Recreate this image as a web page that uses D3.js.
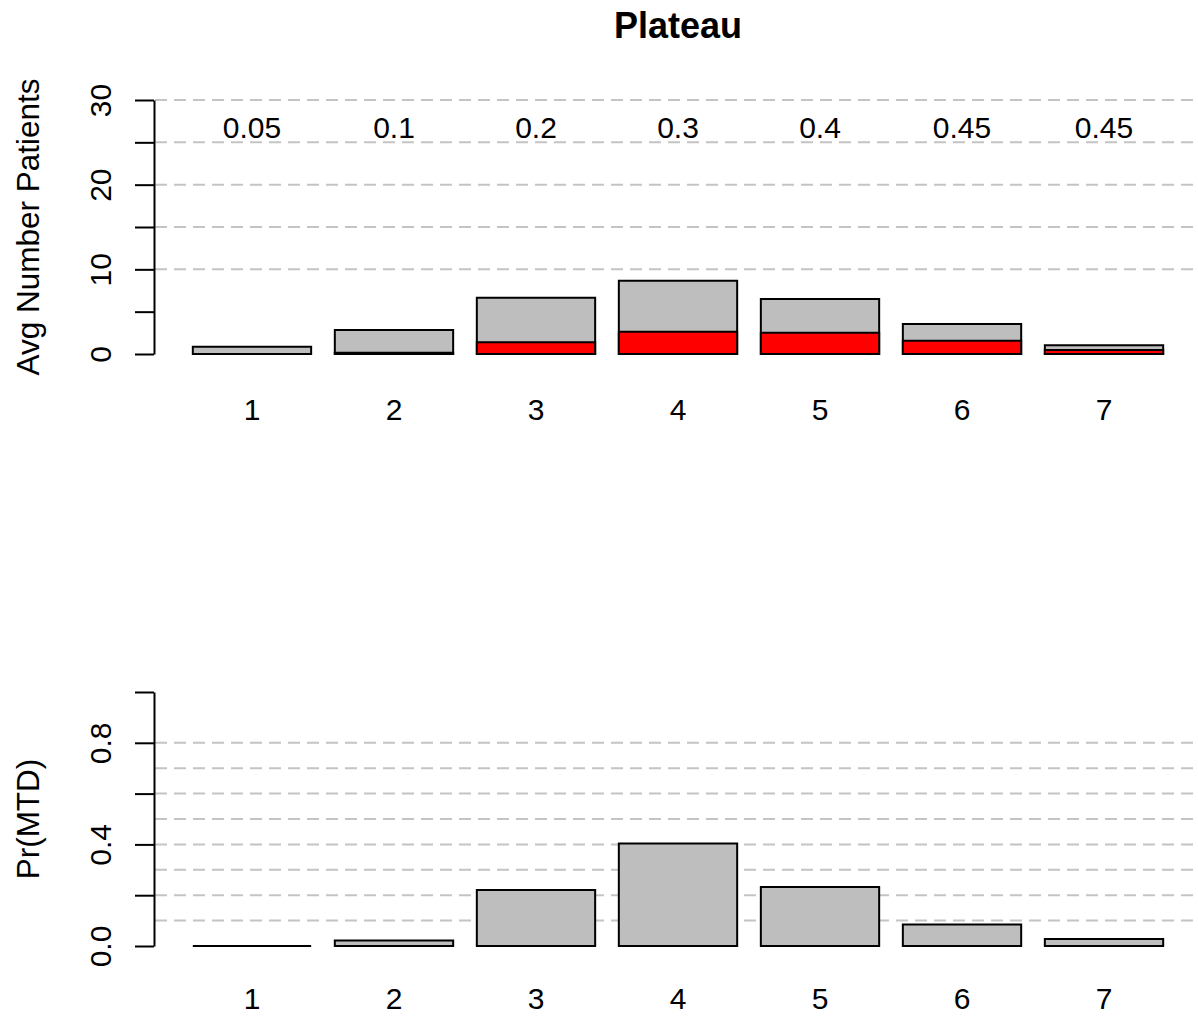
<!DOCTYPE html>
<html>
<head>
<meta charset="utf-8">
<script src="https://cdn.jsdelivr.net/npm/d3@7"></script>
<style>
  html, body { margin: 0; padding: 0; background: #fff; }
  svg { display: block; }
  text { font-family: "Liberation Sans", Arial, Helvetica, sans-serif; fill: #000; }
</style>
</head>
<body>
<svg id="chart" width="1198" height="1016"></svg>
<script>
// Dose levels and per-dose simulation summaries
const doseLevels = ["1", "2", "3", "4", "5", "6", "7"];
const trueToxicity = ["0.05", "0.1", "0.2", "0.3", "0.4", "0.45", "0.45"];
const avgPatients = [0.87, 2.83, 6.65, 8.66, 6.5, 3.54, 1.03];
const avgToxicities = [0, 0.15, 1.38, 2.63, 2.52, 1.57, 0.47];
const probMTD = [0, 0.022, 0.22, 0.404, 0.232, 0.085, 0.028];

// Axis ticks, labels and reference lines
const patientTicks = [0, 5, 10, 15, 20, 25, 30];
const patientTickLabels = [0, 10, 20, 30];
const patientGrid = [10, 15, 20, 25, 30];
const mtdTicks = [0, 0.2, 0.4, 0.6, 0.8, 1.0];
const mtdTickLabels = [0, 0.4, 0.8];
const mtdGrid = [0.1, 0.2, 0.3, 0.4, 0.5, 0.6, 0.7, 0.8];

const W = 1198, H = 1016;
const FONT = 30;
const LAB_FONT = 31.5;
const svg = d3.select("#chart");

// Shared horizontal band scale (bar width 1, space 0.2, plus 4% range padding)
const x = d3.scaleBand()
  .domain(doseLevels)
  .range([154, 1202])
  .paddingInner(0.2 / 1.2)
  .paddingOuter(0.328 / 1.2);

const gridColor = "#c4c4c4";

function panel(cfg) {
  const g = svg.append("g");
  const y = d3.scaleLinear().domain(cfg.domain).range(cfg.range);

  // dashed reference lines
  g.selectAll("line.grid").data(cfg.grid).join("line")
    .attr("class", "grid")
    .attr("x1", 155).attr("x2", W)
    .attr("y1", d => y(d)).attr("y2", d => y(d))
    .attr("stroke", gridColor).attr("stroke-width", 2)
    .attr("stroke-dasharray", "12,7");

  // y axis
  const axis = d3.axisLeft(y)
    .tickValues(cfg.ticks)
    .tickSize(19)
    .tickSizeOuter(0)
    .tickFormat(d => cfg.labels.some(v => Math.abs(v - d) < 1e-9) ? cfg.fmt(d) : "");
  const ag = g.append("g").attr("transform", "translate(154,0)").call(axis);
  ag.select(".domain").attr("stroke", "#000").attr("stroke-width", 2);
  ag.selectAll(".tick line").attr("stroke", "#000").attr("stroke-width", 2);
  ag.selectAll(".tick text")
    .attr("x", null).attr("dy", null)
    .attr("transform", "translate(-43,0) rotate(-90)")
    .attr("text-anchor", "middle")
    .style("font-size", FONT + "px")
    .style("font-family", "'Liberation Sans', Arial, sans-serif")
    .attr("fill", "#000");

  // y axis title
  const mid = (cfg.range[0] + cfg.range[1]) / 2;
  g.append("text")
    .attr("transform", `translate(39,${mid}) rotate(-90)`)
    .attr("text-anchor", "middle")
    .style("font-size", LAB_FONT + "px")
    .text(cfg.title);

  // bars: each series drawn from zero, later series on top
  // (paths so that a zero-height bar still shows its outline)
  cfg.series.forEach(s => {
    g.selectAll(null).data(s.values).join("path")
      .attr("d", (d, i) => {
        const x0 = x(doseLevels[i]), x1 = x0 + x.bandwidth();
        return `M${x0},${y(0)}H${x1}V${y(d)}H${x0}Z`;
      })
      .attr("fill", s.color)
      .attr("stroke", "#000")
      .attr("stroke-width", 2);
  });

  // dose level names
  g.selectAll(null).data(doseLevels).join("text")
    .attr("x", d => x(d) + x.bandwidth() / 2)
    .attr("y", y(0) + cfg.nameOffset)
    .attr("text-anchor", "middle")
    .style("font-size", FONT + "px")
    .text(d => d);

  return y;
}

// Title
svg.append("text")
  .attr("x", (154 + 1202) / 2).attr("y", 38)
  .attr("text-anchor", "middle")
  .style("font-size", "36px").style("font-weight", "bold")
  .text("Plateau");

// Patients per dose with toxicities overlaid in red
const yTop = panel({
  domain: [0, 30], range: [354, 100],
  grid: patientGrid, ticks: patientTicks, labels: patientTickLabels,
  fmt: d3.format("d"),
  title: "Avg Number Patients",
  nameOffset: 66,
  series: [
    { values: avgPatients, color: "#bebebe" },
    { values: avgToxicities, color: "#ff0000" }
  ]
});

// true toxicity probabilities above each dose
svg.append("g").selectAll("text").data(trueToxicity).join("text")
  .attr("x", (d, i) => x(doseLevels[i]) + x.bandwidth() / 2)
  .attr("y", yTop(26.8) + 10.6)
  .attr("text-anchor", "middle")
  .style("font-size", FONT + "px")
  .text(d => d);

// Probability of selecting each dose as MTD
panel({
  domain: [0, 1], range: [946, 692],
  grid: mtdGrid, ticks: mtdTicks, labels: mtdTickLabels,
  fmt: d3.format(".1f"),
  title: "Pr(MTD)",
  nameOffset: 63,
  series: [{ values: probMTD, color: "#bebebe" }]
});
</script>
</body>
</html>
